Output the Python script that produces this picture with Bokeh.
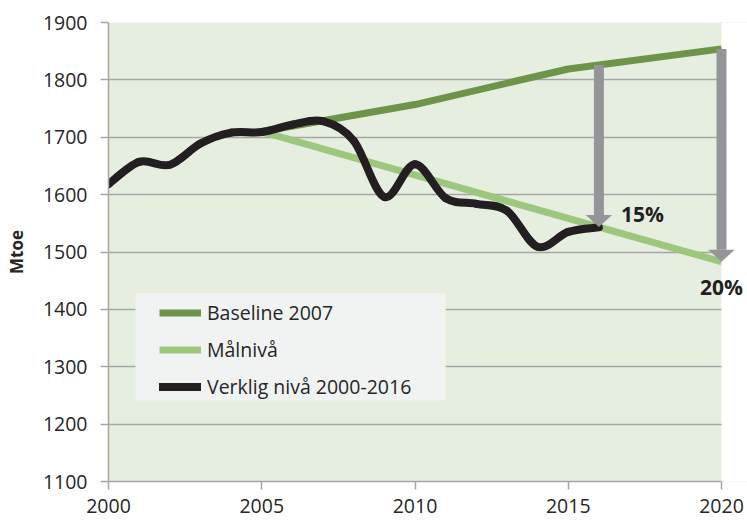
import numpy as np
from bokeh.plotting import figure
from bokeh.models import (Range1d, Legend, LegendItem, Arrow, Label,
                          BoxAnnotation, FixedTicker, PolyAnnotation)
from bokeh.embed import file_html
from bokeh.resources import INLINE

# ---- data ----
years_actual = list(range(2000, 2017))
actual = [1618, 1657, 1652, 1689, 1708, 1709, 1722, 1728, 1694, 1596,
          1653, 1594, 1584, 1572, 1509, 1535, 1543]
baseline_years = [2005, 2010, 2015, 2020]
baseline = [1710, 1757, 1819, 1854]
target_years = [2005, 2020]
target = [1710, 1483]
arrow_years = [2016, 2020]
arrow_labels = ["15%", "20%"]
x_ticks = [2000, 2005, 2010, 2015, 2020]
y_ticks = [1100, 1200, 1300, 1400, 1500, 1600, 1700, 1800, 1900]
series_names = ["Baseline 2007", "Målnivå", "Verklig nivå 2000-2016"]

# ---- style ----
FONT = "Open Sans"
TEXT = "#262626"
GRID = "#a6a6a6"
BG = "#e6eee0"
C_BASE = "#6e9449"
C_TARGET = "#9dc67f"
C_ACTUAL = "#231f20"
C_ARROW = "#939598"

X0, X1 = x_ticks[0], x_ticks[-1]
PX_PER_YEAR = 30.65
FRAME_W = 747 - 108
x_end = X0 + FRAME_W / PX_PER_YEAR   # frame runs past 2020 so arrow/label are not clipped

p = figure(width=747, height=520, output_backend="svg", toolbar_location=None,
           x_range=Range1d(X0, x_end), y_range=Range1d(y_ticks[0], y_ticks[-1]),
           min_border_left=108, min_border_right=0, min_border_top=22,
           min_border_bottom=39, background_fill_color=BG,
           border_fill_color="white", outline_line_color=None)

p.xgrid.grid_line_color = None
p.ygrid.ticker = FixedTicker(ticks=y_ticks)
p.ygrid.grid_line_color = GRID
p.ygrid.grid_line_width = 1.5

# white area to the right of 2020 (covers background and grid there)
p.add_layout(BoxAnnotation(left=X1, fill_color="white", fill_alpha=1,
                           line_color=None, level="underlay"))

for ax, ticks in ((p.xaxis[0], x_ticks), (p.yaxis[0], y_ticks)):
    ax.ticker = FixedTicker(ticks=ticks)
    ax.axis_line_color = GRID
    ax.axis_line_width = 1.5
    ax.major_tick_line_color = GRID
    ax.major_tick_line_width = 1.5
    ax.major_tick_out = 8
    ax.major_tick_in = 0
    ax.minor_tick_line_color = None
    ax.major_label_text_font = FONT
    ax.major_label_text_font_size = "19.5px"
    ax.major_label_text_color = TEXT

p.xaxis.bounds = (X0, X1)
p.xaxis.major_label_standoff = 9
p.yaxis.major_label_standoff = 13
p.yaxis.axis_label = "Mtoe"
p.yaxis.axis_label_text_font = FONT
p.yaxis.axis_label_text_font_size = "17px"
p.yaxis.axis_label_text_font_style = "bold"
p.yaxis.axis_label_text_color = TEXT
p.yaxis.axis_label_standoff = 12

# legend background box
p.add_layout(BoxAnnotation(left=2000.88, right=2011.0, bottom=1241, top=1428,
                           fill_color="#f1f2f2", fill_alpha=1, line_color=None,
                           level="underlay"))

r_base = p.line(baseline_years, baseline, line_color=C_BASE, line_width=7,
                line_cap="butt", line_join="round")
r_target = p.line(target_years, target, line_color=C_TARGET, line_width=7,
                  line_cap="butt", line_join="round")

# smoothed actual line (Bezier segments through the data points)
xa = np.array(years_actual, float)
ya = np.array(actual, float)
n = len(xa)
qx = np.concatenate([[xa[0]], xa, [xa[-1]]])
qy = np.concatenate([[ya[0]], ya, [ya[-1]]])
cx0 = qx[1:n] + (qx[2:n + 1] - qx[0:n - 1]) / 6
cy0 = qy[1:n] + (qy[2:n + 1] - qy[0:n - 1]) / 6
cx1 = qx[2:n + 1] - (qx[3:n + 2] - qx[1:n]) / 6
cy1 = qy[2:n + 1] - (qy[3:n + 2] - qy[1:n]) / 6
r_act = p.bezier(x0=xa[:-1], y0=ya[:-1], x1=xa[1:], y1=ya[1:],
                 cx0=cx0, cy0=cy0, cx1=cx1, cy1=cy1,
                 line_color=C_ACTUAL, line_width=8, line_cap="round")

# arrows
head_half = 0.43
head_len = 21
for yr, lab in zip(arrow_years, arrow_labels):
    ys = float(np.interp(yr, baseline_years, baseline))
    ye = float(np.interp(yr, target_years, target))
    p.add_layout(Arrow(x_start=yr, y_start=ys, x_end=yr, y_end=ye + head_len,
                       line_color=C_ARROW, line_width=10, end=None))
    p.add_layout(PolyAnnotation(xs=[yr - head_half, yr + head_half, yr],
                                ys=[ye + head_len, ye + head_len, ye],
                                fill_color=C_ARROW, fill_alpha=1,
                                line_color=None))

lab_y = [float(np.interp(y, target_years, target)) for y in arrow_years]
p.add_layout(Label(x=arrow_years[0], y=lab_y[0], text=arrow_labels[0],
                   x_offset=22, y_offset=13, text_font=FONT,
                   text_font_size="21px", text_font_style="bold",
                   text_color=C_ACTUAL, text_baseline="middle", text_align="left"))
p.add_layout(Label(x=arrow_years[1], y=lab_y[1], text=arrow_labels[1],
                   x_offset=0, y_offset=-25, text_font=FONT,
                   text_font_size="21px", text_font_style="bold",
                   text_color=C_ACTUAL, text_baseline="middle", text_align="center"))

legend = Legend(items=[LegendItem(label=series_names[0], renderers=[r_base]),
                       LegendItem(label=series_names[1], renderers=[r_target]),
                       LegendItem(label=series_names[2], renderers=[r_act])],
                location=(51, 76), background_fill_alpha=0,
                border_line_color=None, padding=0, margin=0, spacing=0,
                glyph_width=42, glyph_height=37, label_height=37,
                label_standoff=6, label_text_font=FONT,
                label_text_font_size="19.5px", label_text_color=TEXT)
p.add_layout(legend)

open("out.html", "w").write(file_html(p, INLINE))
